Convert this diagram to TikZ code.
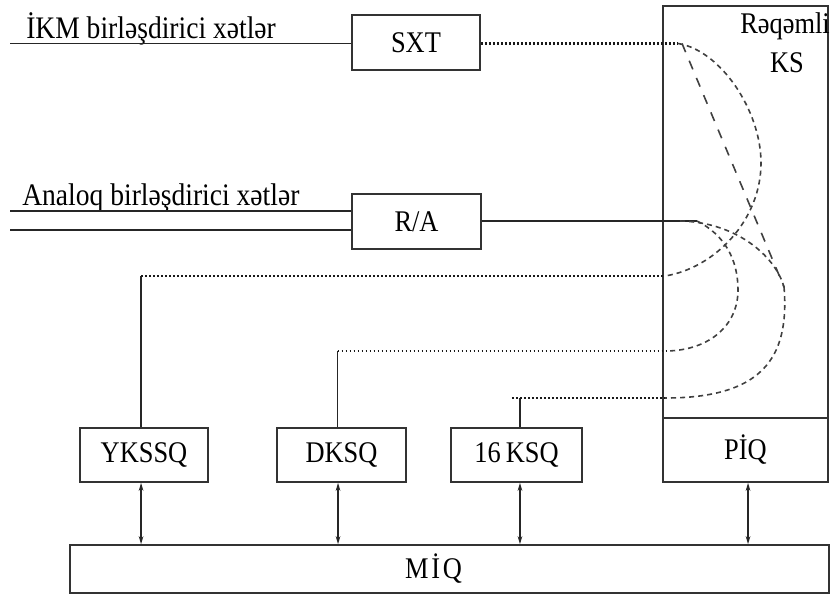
\documentclass[tikz,border=0pt]{standalone}
\usepackage{fontspec}
\setmainfont{Liberation Serif}[FakeStretch=0.88]
\usetikzlibrary{arrows.meta,calc}
\tikzset{
  blk/.style={draw=black!80, line width=1.3pt, inner sep=0pt, font=\fontsize{22.5}{26}\selectfont},
  lbl/.style={inner sep=0pt, font=\fontsize{23.5}{26}\selectfont},
  wire/.style={line width=1.1pt, black!85},
  dots/.style={line width=1.6pt, black!90, dash pattern=on 1.3pt off 1.7pt},
  sdash/.style={line width=1.2pt, black!75, dash pattern=on 3.8pt off 3pt},
  ldash/.style={line width=1.2pt, black!75, dash pattern=on 7pt off 7pt},
  bus/.style={{Stealth[length=6pt,width=3.5pt]}-{Stealth[length=6pt,width=3.5pt]}, line width=0.9pt, black!85},
}

\begin{document}
\begin{tikzpicture}[x=0.75pt,y=-0.75pt]
\useasboundingbox (0,0) rectangle (830,594);
% blocks
\node[blk, minimum width=96pt, minimum height=41.25pt] (sxt) at (416,42.5) {SXT};
\node[blk, minimum width=96.75pt, minimum height=41.25pt] (ra) at (416.5,221.5) {R/A};
\node[blk, minimum width=123.75pt, minimum height=309pt] (ks) at (745.5,212) {};
\node[blk, minimum width=123.75pt, minimum height=48pt] (piq) at (745.5,450) {PİQ};
\node[blk, minimum width=96pt, minimum height=40.5pt] (yk) at (144,455) {YKSSQ};
\node[blk, minimum width=96.75pt, minimum height=40.5pt] (dk) at (341.5,455) {DKSQ};
\node[blk, minimum width=98.25pt, minimum height=40.5pt] (ksq) at (516.5,455) {16\,KSQ};
\node[blk, minimum width=569.25pt, minimum height=36pt] (miq) at (449.5,569) {M\kern2pt İ\kern2pt Q\hspace*{24pt}};
\node[blk, draw=none, anchor=base] (ksa) at (785,33) {Rəqəmli};
\node[blk, draw=none, anchor=base] (ksb) at (787,72) {KS};
% input lines
\node[lbl, anchor=base west] (ikm) at (26,38) {İKM birləşdirici xətlər};
\node[lbl, anchor=base west] (anl) at (22,205) {Analoq birləşdirici xətlər};
\coordinate (in0) at (10,43.5);
\coordinate (in1) at (10,211);
\coordinate (in2) at (10,230);
\draw[wire] (in0) -- (in0 -| sxt.west);
\draw[wire] (in1) -- (in1 -| ra.west);
\draw[wire] (in2) -- (in2 -| ra.west);
% entry points in KS
\coordinate (pa) at (678,43.5);
\coordinate (pb) at (697,221);
\coordinate (pc) at (665,276);
\coordinate (pd) at (667,351);
\coordinate (pe) at (665,398);
\coordinate (pm) at (784,287);
\draw[dots] (sxt.east |- pa) -- (pa);
\draw[wire] (ra.east |- pb) -- (pb);
\coordinate (yc) at ([xshift=-2.2pt]yk.north |- pc);
\coordinate (dc) at ([xshift=-3pt]dk.north |- pd);
\coordinate (kc) at ([xshift=2.6pt]ksq.north |- pe);
\draw[wire] ([xshift=-2.2pt]yk.north) -- (yc);
\draw[dots] (yc) -- (pc);
\draw[wire] ([xshift=-3pt]dk.north) -- (dc);
\draw[dots] (dc) -- (pd);
\draw[wire] ([xshift=2.6pt]ksq.north) -- (kc);
\draw[dots] ([xshift=-6pt]kc) -- (pe);
% switching paths
\draw[sdash] (pa) .. controls (720,50) and (761,110) .. (761,163)
  .. controls (761,220) and (715,268) .. (pc);
\draw[ldash] ([xshift=3pt]pa) -- (pm);
\draw[sdash] (pm) .. controls (790,360) and (760,398) .. (pe);
\draw[sdash] (680,221) .. controls (735,222) and (775,255) .. (pm);
\draw[sdash] (pb) .. controls (725,235) and (738,260) .. (738,290)
  .. controls (738,325) and (710,350) .. (pd);
% buses
\draw[bus] ([xshift=-2.2pt]yk.south) -- ([xshift=-2.2pt]yk.south |- miq.north);
\draw[bus] ([xshift=-2.6pt]dk.south) -- ([xshift=-2.6pt]dk.south |- miq.north);
\draw[bus] ([xshift=2.6pt]ksq.south) -- ([xshift=2.6pt]ksq.south |- miq.north);
\draw[bus] ([xshift=1.9pt]piq.south) -- ([xshift=1.9pt]piq.south |- miq.north);
\end{tikzpicture}
\end{document}
